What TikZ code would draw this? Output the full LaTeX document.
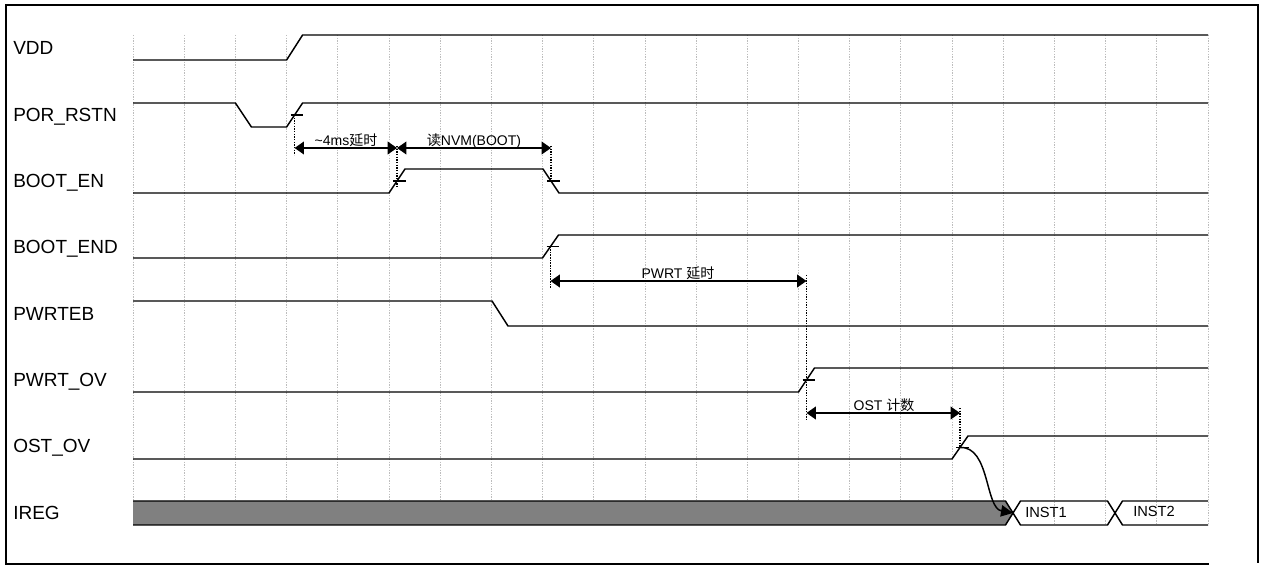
\documentclass[tikz,border=0pt]{standalone}
\usepackage{fontspec}
\setmainfont{Liberation Sans}
\newfontfamily\cjk{Noto Sans CJK SC}
\usetikzlibrary{arrows.meta}
\definecolor{gridgray}{HTML}{BDBDBD}
\definecolor{busgray}{HTML}{808080}
\tikzset{
  frameline/.style={line width=1.1pt, black},
  gridline/.style={gridgray, line width=0.6pt, dash pattern=on 1pt off 1pt},
  sig/.style={line width=1.1pt, black, line join=miter},
  tickmark/.style={line width=0.9pt, black},
  guide/.style={line width=0.9pt, black, dash pattern=on 1.1pt off 0.9pt},
  span/.style={line width=1.1pt, black, {Triangle[length=7pt,width=9.5pt]}-{Triangle[length=7pt,width=9.5pt]}},
  siglabel/.style={anchor=base west, inner sep=0pt, font=\fontsize{14.25}{16}\selectfont},
  spanlabel/.style={anchor=base, inner sep=0pt, font=\fontsize{10.5}{12}\selectfont},
  buslabel/.style={anchor=base west, inner sep=0pt, font=\fontsize{11}{13}\selectfont},
}
\begin{document}
\begin{tikzpicture}[x=0.75pt,y=-0.75pt]
\useasboundingbox (0,0) rectangle (1261,566);
% frame
\draw[frameline] (1258,563) -- (1258,5) -- (6,5) -- (6,564) -- (1209,564);
% grid
\foreach \k in {0,...,21} {
  \draw[gridline] ({133+51.1905*\k},35) -- ({133+51.1905*\k},525);
}
% labels
\node[siglabel] (lVDD) at (13,55) {VDD};
\node[siglabel] (lPOR) at (13,121.3) {POR\_RSTN};
\node[siglabel] (lBEN) at (13,187.6) {BOOT\_EN};
\node[siglabel] (lBEND) at (13,253.9) {BOOT\_END};
\node[siglabel] (lPWRTEB) at (13,320.2) {PWRTEB};
\node[siglabel] (lPWRTOV) at (13,386.5) {PWRT\_OV};
\node[siglabel] (lOST) at (13,452.8) {OST\_OV};
\node[siglabel] (lIREG) at (13,519.1) {IREG};
% signals
\draw[sig] (133,60) -- (286.6,60) -- (302.6,35) -- (1208,35);
\draw[sig] (133,103) -- (235.4,103) -- (251.4,127) -- (286.6,127) -- (302.6,103) -- (1208,103);
\draw[sig] (133,193) -- (389,193) -- (405,169) -- (543,169) -- (559,193) -- (1208,193);
\draw[sig] (133,258) -- (542.5,258) -- (558.5,235) -- (1208,235);
\draw[sig] (133,301) -- (492,301) -- (508,326) -- (1208,326);
\draw[sig] (133,392) -- (798.5,392) -- (814.5,368) -- (1208,368);
\draw[sig] (133,459) -- (952,459) -- (968,436) -- (1208,436);
% IREG bus
\fill[busgray] (133,501) -- (1005.5,501) -- (1013,513) -- (1005.5,525) -- (133,525) -- cycle;
\draw[sig] (133,501) -- (1005.5,501) -- (1013,513) -- (1005.5,525) -- (133,525);
\draw[sig] (1013,513) -- (1020.5,501) -- (1107.5,501) -- (1115,513) -- (1107.5,525) -- (1020.5,525) -- cycle;
\draw[sig] (1208,501) -- (1122.5,501) -- (1115,513) -- (1122.5,525) -- (1208,525);
\node[buslabel] (inst1) at (1025,517.5) {INST1};
\node[buslabel] (inst2) at (1133,516.5) {INST2};
% edge reference points
\coordinate (porR) at (294.6,115);
\coordinate (benR) at (397,181);
\coordinate (benF) at (551,181);
\coordinate (bendR) at (550.5,246.5);
\coordinate (pwrtR) at (806.5,380);
\coordinate (ostR) at (960,447.5);
% ticks
\foreach \p in {porR,benR,benF,bendR,pwrtR,ostR} {
  \draw[tickmark] ([xshift=-3pt]\p) -- ([xshift=6.5pt]\p);
}
% guide lines
\draw[guide] (porR) -- (294.6,155);
\draw[guide] (397,146) -- (397,187);
\draw[guide] (551,146) -- (benF);
\draw[guide] (bendR) -- (550.5,288);
\draw[guide] (806.5,275) -- (806.5,421);
\draw[guide] (960,408) -- (ostR);
% span arrows
\coordinate (a1l) at (294.6,148);
\coordinate (a1r) at (397,148);
\coordinate (a2r) at (551,148);
\coordinate (a3l) at (550.5,281);
\coordinate (a3r) at (806.5,281);
\coordinate (a4l) at (806.5,413);
\coordinate (a4r) at (960,413);
\draw[span] (a1l) -- (a1r);
\draw[span] (a1r) -- (a2r);
\draw[span] (a3l) -- (a3r);
\draw[span] (a4l) -- (a4r);
\node[spanlabel] (t1) at (346,146) {\textasciitilde4ms{\cjk 延时}};
\node[spanlabel] (t2) at (474,146) {{\cjk 读}NVM(BOOT)};
\node[spanlabel] (t3) at (678,279) {PWRT {\cjk 延时}};
\node[spanlabel] (t4) at (884,411) {OST {\cjk 计数}};
% causal arrow
\coordinate (busX) at (1013,513);
\draw[line width=1.1pt, -{Triangle[length=9pt,width=8.5pt]}] (ostR) .. controls (990,446) and (985,508) .. (busX);
\end{tikzpicture}
\end{document}
